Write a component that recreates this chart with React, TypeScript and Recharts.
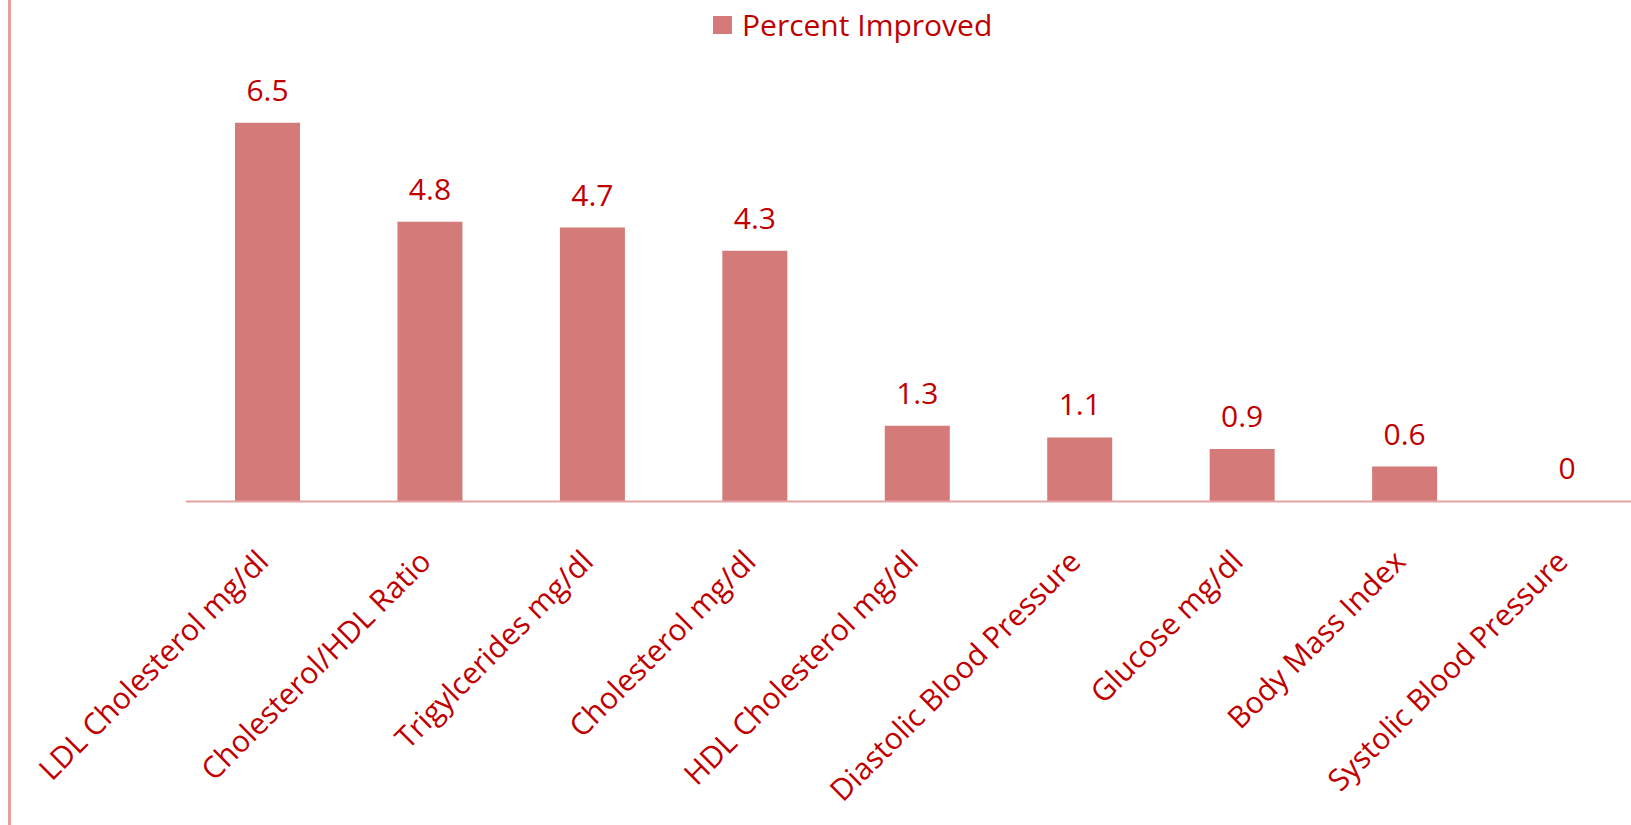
import { Bar, BarChart, LabelList, Legend, XAxis, YAxis } from 'recharts'

const categories = [
  'LDL Cholesterol mg/dl',
  'Cholesterol/HDL Ratio',
  'Trigylcerides mg/dl',
  'Cholesterol mg/dl',
  'HDL Cholesterol mg/dl',
  'Diastolic Blood Pressure',
  'Glucose mg/dl',
  'Body Mass Index',
  'Systolic Blood Pressure'
]
const percentImproved = [6.5, 4.8, 4.7, 4.3, 1.3, 1.1, 0.9, 0.6, 0]
const seriesName = 'Percent Improved'

const data = categories.map((name, i) => ({ name, value: percentImproved[i] }))

const BAR = '#d47a78'
const TEXT = '#c00000'
const LINE = '#e4a3a3'
const FONT = '"Open Sans", sans-serif'

const AngledTick = (props: any) => {
  const { x, y, payload } = props
  const tx = x + 3
  const ty = y + 54
  return (
    <text
      x={tx}
      y={ty}
      transform={`rotate(-45, ${tx}, ${ty})`}
      textAnchor="end"
      fill={TEXT}
      fontSize={30}
      fontFamily={FONT}
    >
      {payload.value}
    </text>
  )
}

// value label above each bar, also for the zero bar
const ValueLabel = (props: any) => {
  const { x, y, width, value } = props
  return (
    <text
      x={x + width / 2}
      y={y - 22}
      textAnchor="middle"
      fill={TEXT}
      fontSize={30}
      fontFamily={FONT}
    >
      {value}
    </text>
  )
}

const LegendContent = () => (
  <div style={{ display: 'flex', alignItems: 'center', fontFamily: FONT, fontSize: 30, lineHeight: '41px', color: TEXT, whiteSpace: 'nowrap' }}>
    <span style={{ display: 'inline-block', width: 19, height: 18, background: BAR, marginRight: 10 }} />
    <span>{seriesName}</span>
  </div>
)

export default function App() {
  return (
    <div style={{ position: 'absolute', left: 0, top: 0, width: 1631, height: 825, overflow: 'hidden', background: '#fff' }}>
      <div style={{ position: 'absolute', left: 8, top: 0, width: 3, height: 825, background: '#e89c9c' }} />
      <BarChart
        width={1660}
        height={825}
        data={data}
        margin={{ top: 93.5, right: 12, bottom: 23.5, left: 186 }}
      >
        <XAxis
          dataKey="name"
          interval={0}
          height={300}
          tickLine={false}
          axisLine={{ stroke: LINE, strokeWidth: 2 }}
          tick={<AngledTick />}
        />
        <YAxis hide domain={[0, 7]} />
        <Legend
          layout="vertical"
          verticalAlign="middle"
          align="center"
          wrapperStyle={{ top: 4, left: 713, width: 'auto' }}
          content={<LegendContent />}
        />
        <Bar dataKey="value" name={seriesName} fill={BAR} barSize={65} minPointSize={0.01} isAnimationActive={false}>
          <LabelList dataKey="value" content={<ValueLabel />} />
        </Bar>
      </BarChart>
    </div>
  )
}
